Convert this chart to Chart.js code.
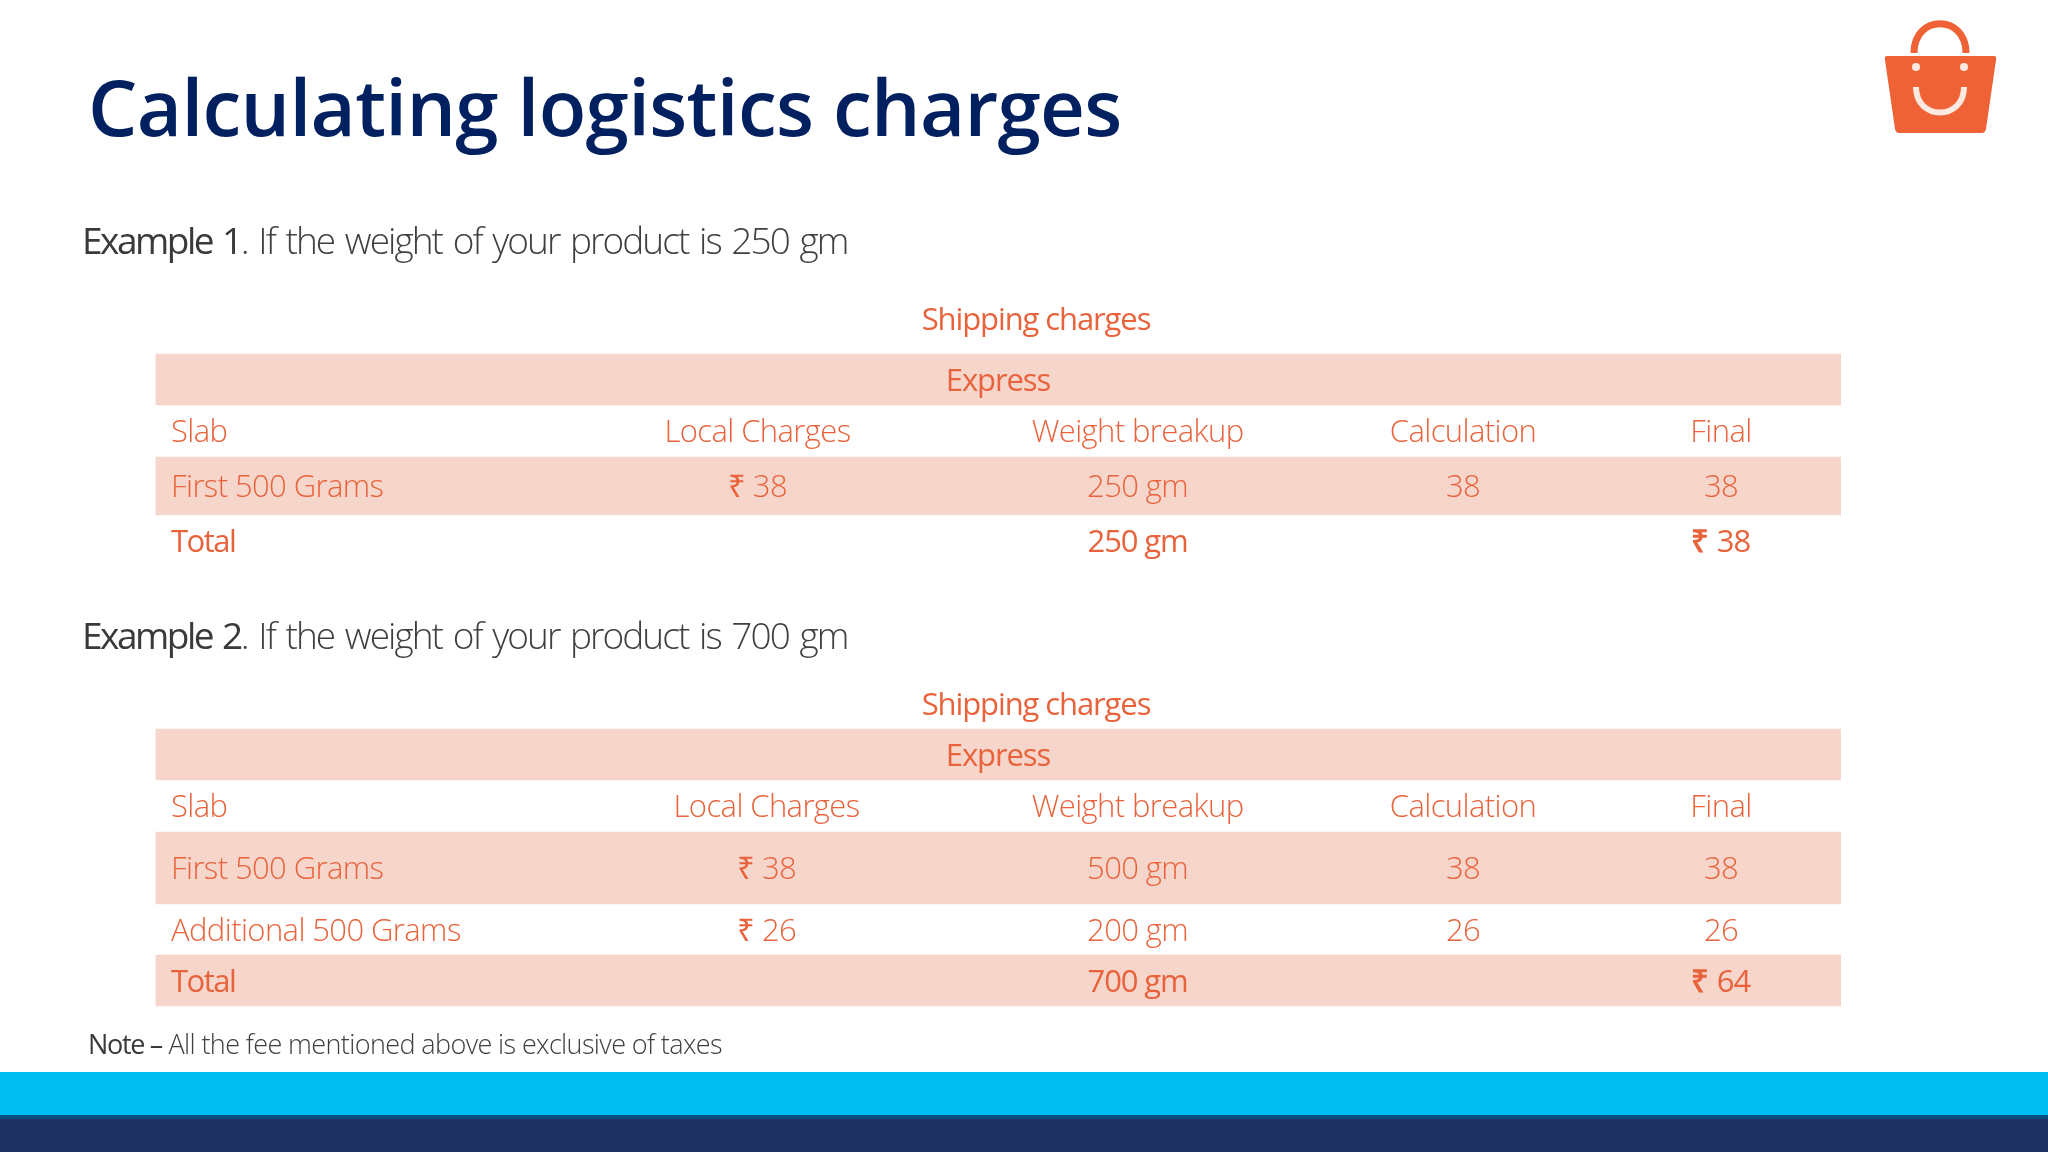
<!DOCTYPE html>
<html>
<head>
<meta charset="utf-8">
<title>Calculating logistics charges</title>
<script src="https://cdn.jsdelivr.net/npm/chart.js@4"></script>
<style>
  html, body { margin: 0; padding: 0; background: #fff; width: 2048px; height: 1152px; overflow: hidden; }
  #chart { position: absolute; left: 0; top: 0; }
  #logo { position: absolute; left: 1800px; top: 0; }
  .strip { position: absolute; left: 0; width: 2048px; }
</style>
</head>
<body>
<canvas id="chart" width="2048" height="1152"></canvas>
<svg id="logo" width="248" height="160" viewBox="0 0 248 160">
  <path d="M114 53 C114 14 166 14 166 53" fill="none" stroke="#ee6236" stroke-width="7"/>
  <path d="M87 56 H194 Q197 56 196 60 L186 129 Q185 133 182 133 H99 Q96 133 95 129 L85 60 Q84 56 87 56 Z" fill="#ee6236"/>
  <circle cx="116" cy="67" r="4" fill="#fde8df"/>
  <circle cx="164" cy="67" r="4" fill="#fde8df"/>
  <path d="M116 87 C116 121 164 121 164 87" fill="none" stroke="#fde8df" stroke-width="6"/>
</svg>
<div class="strip" style="top:1072px;height:43px;background:#00bdf2"></div>
<div class="strip" style="top:1115px;height:4px;background:#0b4f80"></div>
<div class="strip" style="top:1119px;height:33px;background:#1f3262"></div>
<script>
// slide text
const pageTitle = "Calculating logistics charges"
const example1 = ["Example 1", ". If the weight of your product is 250 gm"]
const example2 = ["Example 2", ". If the weight of your product is 700 gm"]
const note = ["Note \u2013", " All the fee mentioned above is exclusive of taxes"]
const tableCaption = "Shipping charges"
const tableBand = "Express"
const columns = ["Slab", "Local Charges", "Weight breakup", "Calculation", "Final"]
const rupee = "\u20b9"

// table 1
const slabs1 = ["First 500 Grams"]
const charges1 = ["\u20b9 38"]
const weights1 = ["250 gm"]
const calc1 = ["38"]
const final1 = ["38"]
const totalWeight1 = "250 gm"
const totalFinal1 = "38"

// table 2
const slabs2 = ["First 500 Grams", "Additional 500 Grams"]
const charges2 = ["\u20b9 38", "\u20b9 26"]
const weights2 = ["500 gm", "200 gm"]
const calc2 = ["38", "26"]
const final2 = ["38", "26"]
const totalWeight2 = "700 gm"
const totalFinal2 = "64"

// row edges on the page axis
const rowEdges1 = [354, 405, 457, 515, 570]
const rowEdges2 = [729, 780, 832, 904, 955, 1006]
const bands1 = [0, 2]
const bands2 = [0, 2, 4]

const ORANGE = "#e8633c"
const FONT = "'Open Sans'"

function bandDatasets(edges, bands) {
  return bands.map(i => ({
    data: [[edges[i], edges[i + 1]]],
    backgroundColor: "#f6d5cb",
    borderWidth: 0,
    barPercentage: 1,
    categoryPercentage: 1,
    grouped: false
  }))
}

// the reference text is set tighter than the installed Open Sans
function put(ctx, text, x, y, font, color, align, spacing, words) {
  ctx.font = font
  ctx.letterSpacing = (spacing || 0) + "px"
  ctx.wordSpacing = (words || 0) + "px"
  ctx.fillStyle = color
  ctx.textAlign = align || "left"
  ctx.textBaseline = "middle"
  ctx.fillText(text, x, y)
}

function putMixed(ctx, parts, x, y, size, sp1, sp2, words) {
  put(ctx, parts[0], x, y, `400 ${size}px ${FONT}`, "#3a3a3a", "left", sp1, words)
  const w = ctx.measureText(parts[0]).width
  put(ctx, parts[1], x + w, y, `300 ${size}px ${FONT}`, "#404040", "left", sp2, words)
}

// the rupee sign in the total row is heavier than its number
function putTotal(ctx, amount, x, y, reg, spacing) {
  put(ctx, amount, x + 12.5, y, reg, ORANGE, "center", spacing)
  put(ctx, rupee, x - 21, y, `700 31px ${FONT}`, ORANGE, "center")
}

function drawTable(chart, t) {
  const { ctx } = chart
  const xs = chart.scales.page
  const ys = chart.scales.y
  const mid = i => ys.getPixelForValue((t.edges[i] + t.edges[i + 1]) / 2) + 2.5
  const light = `300 31px ${FONT}`
  const reg = `400 31px ${FONT}`
  const colX = [171, t.chargeX, 1137.6, 1463, 1721].map(v => xs.getPixelForValue(v))
  const LS = -0.6
  const RS = -1.1

  put(ctx, tableCaption, xs.getPixelForValue(1036), ys.getPixelForValue(t.captionY), reg, ORANGE, "center", RS)
  put(ctx, tableBand, xs.getPixelForValue(998), mid(0), reg, ORANGE, "center", RS)

  columns.forEach((c, i) => put(ctx, c, colX[i], mid(1), light, ORANGE, i ? "center" : "left", LS))
  t.slabs.forEach((s, r) => {
    const y = mid(r + 2)
    put(ctx, s, colX[0], y, light, ORANGE, "left", LS)
    put(ctx, t.charges[r], colX[1], y, light, ORANGE, "center", LS)
    put(ctx, t.weights[r], colX[2], y, light, ORANGE, "center", LS)
    put(ctx, t.calc[r], colX[3], y, light, ORANGE, "center", LS)
    put(ctx, t.final[r], colX[4], y, light, ORANGE, "center", LS)
  })
  const y = mid(t.slabs.length + 2) + t.totalShift
  put(ctx, "Total", colX[0], y, reg, ORANGE, "left", -1.5)
  put(ctx, t.totalWeight, colX[2], y, reg, ORANGE, "center", RS)
  putTotal(ctx, t.totalFinal, colX[4], y, reg, RS)
}

const slideText = {
  id: "slideText",
  afterDatasetsDraw(chart) {
    const { ctx } = chart
    ctx.save()
    put(ctx, pageTitle, 88, 114, `600 78px ${FONT}`, "#002060", "left", -0.65)
    putMixed(ctx, example1, 82, 243.5, 37, -2.5, -1.95, 3)
    putMixed(ctx, example2, 82, 638.5, 37, -2.5, -1.95, 3)
    putMixed(ctx, note, 88, 1046, 27, -1.3, -0.62)
    drawTable(chart, {
      edges: rowEdges1, captionY: 321.5, chargeX: 757.5, totalShift: -1.5, slabs: slabs1, charges: charges1,
      weights: weights1, calc: calc1, final: final1, totalWeight: totalWeight1, totalFinal: totalFinal1
    })
    drawTable(chart, {
      edges: rowEdges2, captionY: 706, chargeX: 766.6, totalShift: 0, slabs: slabs2, charges: charges2,
      weights: weights2, calc: calc2, final: final2, totalWeight: totalWeight2, totalFinal: totalFinal2
    })
    ctx.restore()
  }
}

new Chart(document.getElementById("chart"), {
  type: "bar",
  data: {
    labels: ["Express"],
    datasets: [...bandDatasets(rowEdges1, bands1), ...bandDatasets(rowEdges2, bands2)]
  },
  options: {
    responsive: false,
    animation: false,
    layout: { padding: { left: 155.5, right: 207, top: 0, bottom: 0 } },
    plugins: { legend: { display: false }, title: { display: false }, tooltip: { enabled: false } },
    scales: {
      x: { display: false, offset: true },
      y: { display: false, min: 0, max: 1152, reverse: true },
      page: { type: "linear", axis: "x", display: false, offset: false, min: 155.5, max: 1841 }
    }
  },
  plugins: [slideText]
})
</script>
</body>
</html>
